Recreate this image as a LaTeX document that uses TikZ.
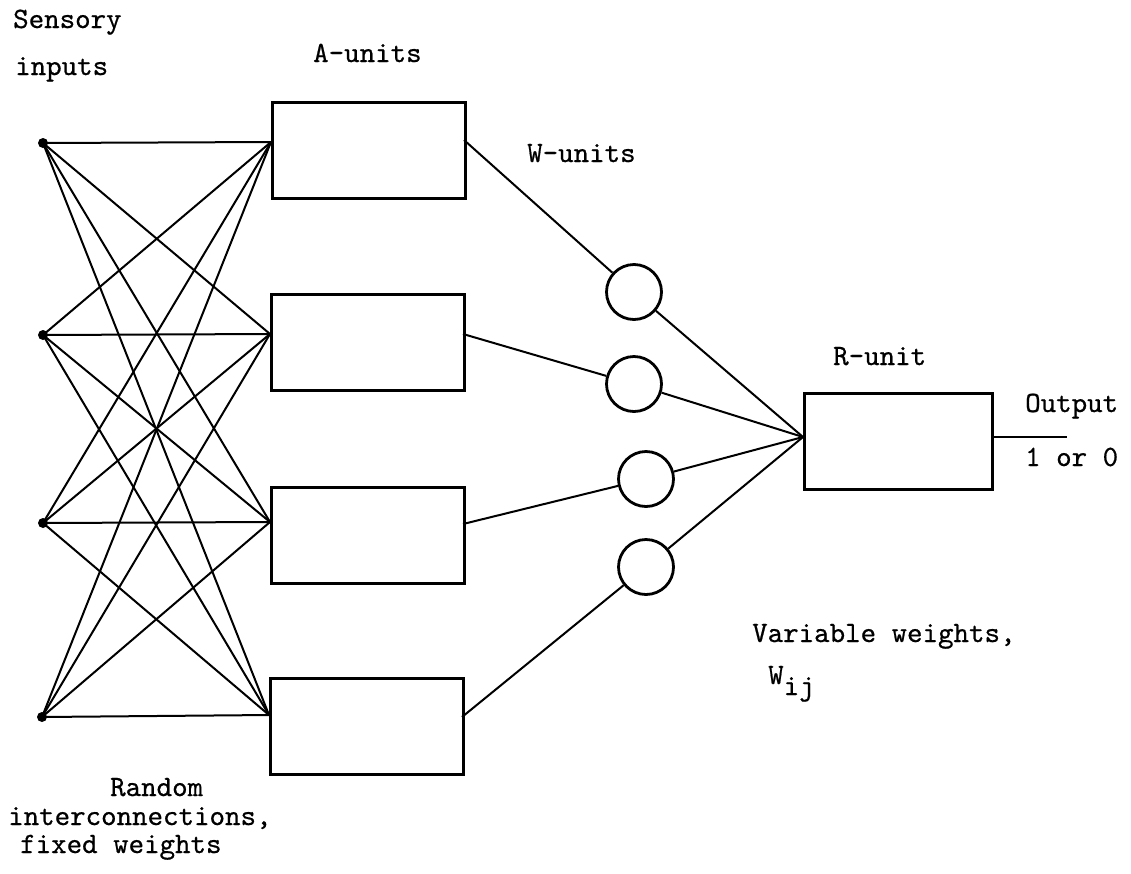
\documentclass[tikz,border=0pt]{standalone}
\usepackage{fontspec}
\newfontfamily\typew[FakeBold=0.6]{lmmono10-regular.otf}
\begin{document}
\begin{tikzpicture}[x=1pt,y=-1pt,
  wire/.style={line width=2pt},
  unitbox/.style={draw, line width=2.6pt, rectangle, minimum width=193pt, minimum height=96pt, inner sep=0pt, anchor=north west},
  rbox/.style={draw, line width=2.6pt, rectangle, minimum width=188pt, minimum height=96pt, inner sep=0pt, anchor=north west},
  wunit/.style={draw, circle, line width=2.8pt, minimum size=55pt, inner sep=0pt},
  indot/.style={fill, circle, minimum size=10pt, inner sep=0pt},
  lbl/.style={font=\typew\fontsize{29.5}{34}\selectfont, anchor=base west, inner sep=0pt}]
\useasboundingbox (0,0) rectangle (1131,873);

% sensory inputs
\node[indot] (i1) at (43,143) {};
\node[indot] (i2) at (43,335) {};
\node[indot] (i3) at (43,523) {};
\node[indot] (i4) at (42,717) {};

% A-units
\node[unitbox] (a1) at (271,101) {};
\node[unitbox] (a2) at (270,293) {};
\node[unitbox] (a3) at (270,486) {};
\node[unitbox] (a4) at (269,677) {};
\coordinate (a1l) at (271,142);
\coordinate (a2l) at (270,334);
\coordinate (a3l) at (270,522);
\coordinate (a4l) at (269,715);
\coordinate (a1r) at (464,140);
\coordinate (a2r) at (463,334);
\coordinate (a3r) at (463,524);
\coordinate (a4r) at (462,717);

% W-units
\node[wunit] (w1) at (634,292) {};
\node[wunit] (w2) at (634,384) {};
\node[wunit] (w3) at (646,479) {};
\node[wunit] (w4) at (646,567) {};

% R-unit
\node[rbox] (r) at (803,392) {};
\coordinate (rin) at (803,437);
\coordinate (rout) at (991,437);
\coordinate (oend) at (1067,437);

% random interconnections
\foreach \i in {1,2,3,4}{
  \foreach \j in {1,2,3,4}{
    \draw[wire] (i\i.center) -- (a\j l);
  }
}

% A to W, W to R
\foreach \k in {1,2,3,4}{
  \draw[wire] (a\k r) -- (w\k);
  \draw[wire] (w\k) -- (rin);
}
\draw[wire] (rout) -- (oend);

% labels
\node[lbl] (tsens) at (13,28) {Sensory};
\node[lbl] (tinp) at (15,75) {inputs};
\node[lbl] (taun) at (313,62) {A-units};
\node[lbl] (twun) at (527,162) {W-units};
\node[lbl] (trun) at (833,365) {R-unit};
\node[lbl] (tout) at (1025,412) {Output};
\node[lbl] (tone) at (1025,466) {1 or 0};
\node[lbl] (tvar) at (752,642) {Variable weights,};
\node[lbl] (twij) at (768,684) {W\raisebox{-11pt}{ij}};
\node[lbl] (trand) at (110,796) {Random};
\node[lbl] (tinter) at (8,825) {interconnections,};
\node[lbl] (tfix) at (20,853) {fixed weights};
\end{tikzpicture}
\end{document}
